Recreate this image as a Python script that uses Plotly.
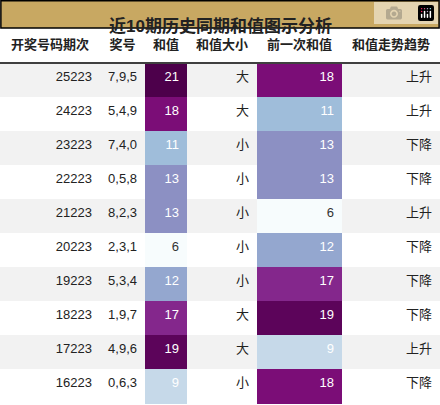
import plotly.graph_objects as go
from plotly.colors import sample_colorscale

title = "近10期历史同期和值图示分析"
headers = ["开奖号码期次", "奖号", "和值", "和值大小", "前一次和值", "和值走势趋势"]
periods = ["25223", "24223", "23223", "22223", "21223", "20223", "19223", "18223", "17223", "16223"]
numbers = ["7,9,5", "5,4,9", "7,4,0", "0,5,8", "8,2,3", "2,3,1", "5,3,4", "1,9,7", "4,9,6", "0,6,3"]
sums = [21, 18, 11, 13, 13, 6, 12, 17, 19, 9]
sizes = ["大", "大", "小", "小", "小", "小", "小", "大", "大", "小"]
prev_sums = [18, 11, 13, 13, 6, 12, 17, 19, 9, 18]
trends = ["上升", "上升", "下降", "下降", "上升", "下降", "下降", "下降", "上升", "下降"]

lo, hi = 6, 19.5
def col(v):
    return sample_colorscale("BuPu", [min(1, (v - lo) / (hi - lo))])[0]
def tcol(v):
    return "#333333" if v <= 7 else "white"

band = ["#f2f2f2" if i % 2 == 0 else "white" for i in range(len(periods))]
fills = [band, band, [col(v) for v in sums], band, [col(v) for v in prev_sums], band]
dark = ["#222222"] * len(periods)
fcols = [dark, dark, [tcol(v) for v in sums], dark, [tcol(v) for v in prev_sums], dark]

FONT = "Liberation Sans, Noto Sans CJK SC"
W, H = 440, 405
fig = go.Figure(go.Table(
    columnwidth=[100, 45, 42, 70, 85, 98],
    header=dict(values=[f"<b>{h}</b>" for h in headers], fill_color="white",
                line_color="white", align="center", height=34,
                font=dict(family=FONT, size=13, color="#222222")),
    cells=dict(values=[periods, numbers, sums, sizes, prev_sums, trends],
               fill_color=fills, line_color=fills, align="right", height=34,
               font=dict(family=FONT, size=13, color=fcols)),
    domain=dict(x=[0, 1], y=[0, 1 - 29 / H]),
))
fig.add_shape(type="rect", xref="paper", yref="paper", x0=0.002, x1=0.998,
              y0=1 - 28 / H, y1=0.998, fillcolor="#c8a862", line=dict(color="black", width=1.5))
fig.add_shape(type="line", xref="paper", yref="paper", x0=0, x1=1,
              y0=1 - 63 / H, y1=1 - 63 / H, line=dict(color="black", width=1.5))
fig.add_annotation(text=f"<b>{title}</b>", xref="paper", yref="paper", x=0.5, y=1 - 14 / H,
                   showarrow=False, font=dict(family=FONT, size=17, color="#222222"))
fig.update_layout(width=W, height=H, margin=dict(l=0, r=0, t=0, b=0),
                  paper_bgcolor="white")
fig.write_html("out.html", post_script="document.body.style.margin='0';document.body.style.overflow='hidden';")
